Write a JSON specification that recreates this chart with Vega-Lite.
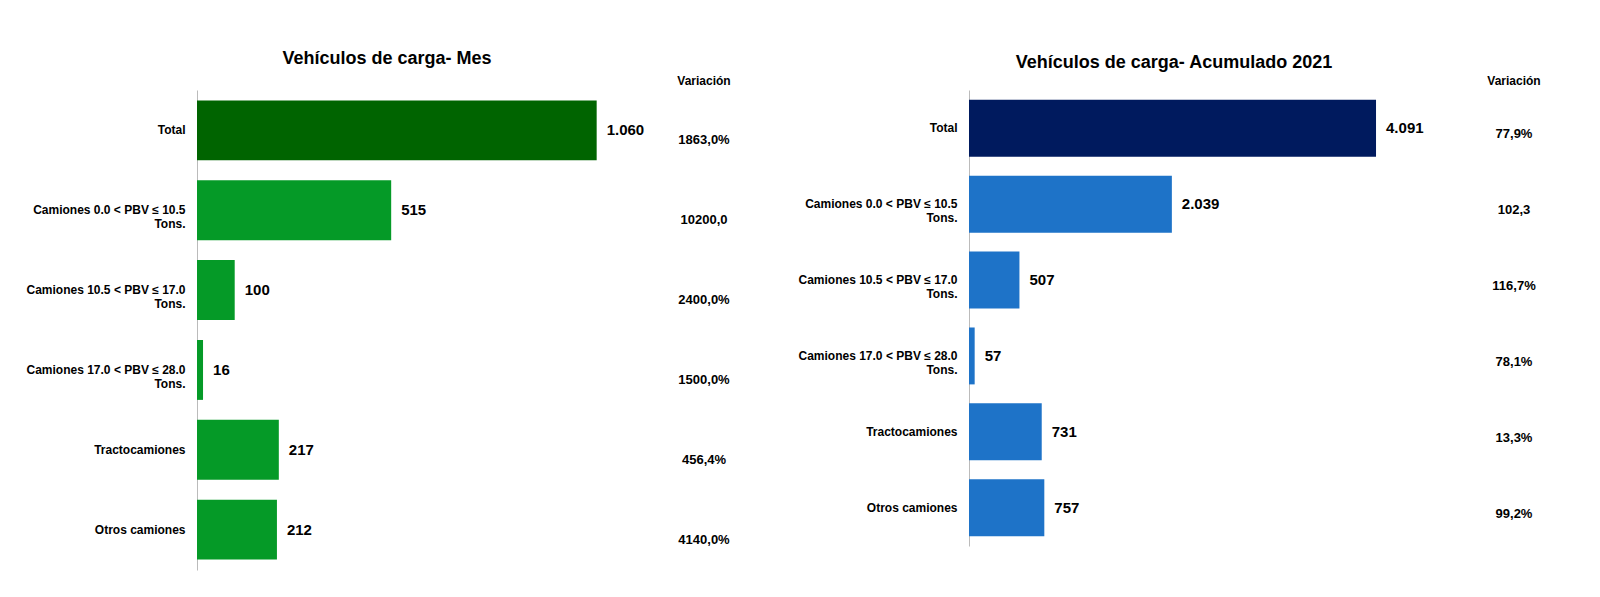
{
  "$schema": "https://vega.github.io/schema/vega-lite/v6.json",
  "background": "white",
  "padding": {"left": 5, "top": 50, "right": 5, "bottom": 5},
  "resolve": {"scale": {"color": "independent", "y": "independent", "x": "independent"}},
  "config": {
    "font": "Liberation Sans Narrow, Liberation Sans, sans-serif",
    "view": {"stroke": null},
    "concat": {"spacing": 20},
    "axis": {"labelFont": "Liberation Sans Narrow, Liberation Sans, sans-serif", "labelFontWeight": "bold", "labelColor": "#000"}
  },
  "datasets": {
    "mes": [
      {"cat": "Total", "valor": 1060, "etiqueta": "1.060", "variacion": "1863,0%", "tipo": "total"},
      {"cat": "Camiones 0.0 < PBV ≤ 10.5 Tons.", "valor": 515, "etiqueta": "515", "variacion": "10200,0", "tipo": "otro"},
      {"cat": "Camiones 10.5 < PBV ≤ 17.0 Tons.", "valor": 100, "etiqueta": "100", "variacion": "2400,0%", "tipo": "otro"},
      {"cat": "Camiones 17.0 < PBV ≤ 28.0 Tons.", "valor": 16, "etiqueta": "16", "variacion": "1500,0%", "tipo": "otro"},
      {"cat": "Tractocamiones", "valor": 217, "etiqueta": "217", "variacion": "456,4%", "tipo": "otro"},
      {"cat": "Otros camiones", "valor": 212, "etiqueta": "212", "variacion": "4140,0%", "tipo": "otro"}
    ],
    "acum": [
      {"cat": "Total", "valor": 4091, "etiqueta": "4.091", "variacion": "77,9%", "tipo": "total"},
      {"cat": "Camiones 0.0 < PBV ≤ 10.5 Tons.", "valor": 2039, "etiqueta": "2.039", "variacion": "102,3", "tipo": "otro"},
      {"cat": "Camiones 10.5 < PBV ≤ 17.0 Tons.", "valor": 507, "etiqueta": "507", "variacion": "116,7%", "tipo": "otro"},
      {"cat": "Camiones 17.0 < PBV ≤ 28.0 Tons.", "valor": 57, "etiqueta": "57", "variacion": "78,1%", "tipo": "otro"},
      {"cat": "Tractocamiones", "valor": 731, "etiqueta": "731", "variacion": "13,3%", "tipo": "otro"},
      {"cat": "Otros camiones", "valor": 757, "etiqueta": "757", "variacion": "99,2%", "tipo": "otro"}
    ]
  },
  "hconcat": [
    {
      "data": {"name": "mes"},
      "width": 460,
      "height": 480,
      "title": {"text": "Vehículos de carga- Mes", "fontSize": 18, "fontWeight": "bold", "offset": 22, "anchor": "middle", "dx": -40},
      "encoding": {
        "y": {"field": "cat", "type": "nominal", "sort": null, "title": null,
          "scale": {"paddingInner": 0.25, "paddingOuter": 0.13},
          "axis": {"ticks": false, "domainColor": "#bbb", "labelFontSize": 12, "labelPadding": 12, "minExtent": 192,
            "labelExpr": "split(replace(datum.label, ' Tons.', '|Tons.'), '|')", "labelAlign": "right"}},
        "x": {"field": "valor", "type": "quantitative", "scale": {"domain": [0, 1220]}, "axis": null}
      },
      "layer": [
        {"mark": {"type": "bar"},
         "encoding": {"color": {"field": "tipo", "type": "nominal", "legend": null,
           "scale": {"domain": ["total", "otro"], "range": ["#006400", "#059a27"]}}}},
        {"mark": {"type": "text", "align": "left", "dx": 10, "fontSize": 15, "fontWeight": "bold"},
         "encoding": {"text": {"field": "etiqueta"}}}
      ]
    },
    {
      "data": {"name": "mes"},
      "width": 50,
      "height": 480,
      "title": {"text": "Variación", "fontSize": 12, "fontWeight": "bold", "offset": 2},
      "mark": {"type": "text", "fontSize": 13, "fontWeight": "bold", "dy": 10},
      "encoding": {
        "y": {"field": "cat", "type": "nominal", "sort": null, "axis": null,
          "scale": {"paddingInner": 0.25, "paddingOuter": 0.13}},
        "text": {"field": "variacion"}
      }
    },
    {
      "data": {"name": "acum"},
      "width": 490,
      "height": 456,
      "title": {"text": "Vehículos de carga- Acumulado 2021", "fontSize": 18, "fontWeight": "bold", "offset": 18, "anchor": "middle", "dx": -40},
      "encoding": {
        "y": {"field": "cat", "type": "nominal", "sort": null, "title": null,
          "scale": {"paddingInner": 0.25, "paddingOuter": 0.13},
          "axis": {"ticks": false, "domainColor": "#bbb", "labelFontSize": 12, "labelPadding": 12, "minExtent": 218,
            "labelExpr": "split(replace(datum.label, ' Tons.', '|Tons.'), '|')", "labelAlign": "right"}},
        "x": {"field": "valor", "type": "quantitative", "scale": {"domain": [0, 4925]}, "axis": null}
      },
      "layer": [
        {"mark": {"type": "bar"},
         "encoding": {"color": {"field": "tipo", "type": "nominal", "legend": null,
           "scale": {"domain": ["total", "otro"], "range": ["#001a5e", "#1e73c8"]}}}},
        {"mark": {"type": "text", "align": "left", "dx": 10, "fontSize": 15, "fontWeight": "bold"},
         "encoding": {"text": {"field": "etiqueta"}}}
      ]
    },
    {
      "data": {"name": "acum"},
      "width": 70,
      "height": 456,
      "title": {"text": "Variación", "fontSize": 12, "fontWeight": "bold", "offset": 2},
      "mark": {"type": "text", "fontSize": 13, "fontWeight": "bold", "dy": 6},
      "encoding": {
        "y": {"field": "cat", "type": "nominal", "sort": null, "axis": null,
          "scale": {"paddingInner": 0.25, "paddingOuter": 0.13}},
        "text": {"field": "variacion"}
      }
    }
  ]
}
